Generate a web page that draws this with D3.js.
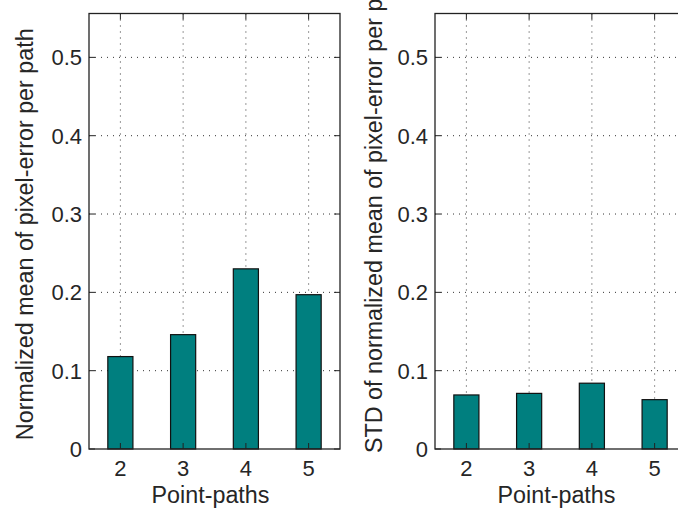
<!DOCTYPE html>
<html>
<head>
<meta charset="utf-8">
<script src="https://cdn.jsdelivr.net/npm/d3@7"></script>
<style>
  html, body { margin: 0; padding: 0; background: #fff; }
  svg { display: block; }
  text { font-family: "Liberation Sans", Arial, sans-serif; fill: #262626; }
</style>
</head>
<body>
<svg id="chart" width="678" height="512"></svg>
<script>
const categories = [2, 3, 4, 5];
const meanValues = [0.118, 0.146, 0.230, 0.197];
const stdValues = [0.069, 0.071, 0.084, 0.063];
const yTicks = [0, 0.1, 0.2, 0.3, 0.4, 0.5];
const yTickLabels = ["0", "0.1", "0.2", "0.3", "0.4", "0.5"];
const xLabel = "Point-paths";
const yLabelLeft = "Normalized mean of pixel-error per path";
const yLabelRight = "STD of normalized mean of pixel-error per path";

const svg = d3.select("#chart");
const FS = 22;
const LFS = 23.3;

function panel(left, values, ylabel, labelMode) {
  const top = 13.5, bottom = 449, width = 251;
  const x = d3.scaleLinear().domain([1.5, 5.5]).range([left, left + width]);
  const y = d3.scaleLinear().domain([0, 0.556]).range([bottom, top]);
  const g = svg.append("g");

  // grid
  g.selectAll(".gx").data(categories).enter().append("line")
    .attr("x1", d => x(d)).attr("x2", d => x(d))
    .attr("y1", top).attr("y2", bottom)
    .attr("stroke", "#333").attr("stroke-width", 1).attr("stroke-dasharray", "1,5");
  g.selectAll(".gy").data(yTicks.slice(1)).enter().append("line")
    .attr("x1", left).attr("x2", left + width)
    .attr("y1", d => y(d)).attr("y2", d => y(d))
    .attr("stroke", "#333").attr("stroke-width", 1).attr("stroke-dasharray", "1,5");

  // bars
  const bw = 0.4;
  g.selectAll(".bar").data(values).enter().append("rect")
    .attr("x", (d, i) => x(categories[i] - bw / 2))
    .attr("width", x(bw) - x(0))
    .attr("y", d => y(d))
    .attr("height", d => y(0) - y(d))
    .attr("fill", "#007f7f")
    .attr("stroke", "#111").attr("stroke-width", 1.2);

  // ticks inward
  const tl = 6;
  categories.forEach(c => {
    g.append("line").attr("x1", x(c)).attr("x2", x(c)).attr("y1", bottom).attr("y2", bottom - tl).attr("stroke", "#222");
    g.append("line").attr("x1", x(c)).attr("x2", x(c)).attr("y1", top).attr("y2", top + tl).attr("stroke", "#222");
  });
  yTicks.forEach(t => {
    g.append("line").attr("x1", left).attr("x2", left + tl).attr("y1", y(t)).attr("y2", y(t)).attr("stroke", "#222");
    g.append("line").attr("x1", left + width).attr("x2", left + width - tl).attr("y1", y(t)).attr("y2", y(t)).attr("stroke", "#222");
  });

  // box
  g.append("rect").attr("x", left).attr("y", top).attr("width", width).attr("height", bottom - top)
    .attr("fill", "none").attr("stroke", "#222").attr("stroke-width", 1.3);

  // tick labels
  g.selectAll(".xt").data(categories).enter().append("text")
    .attr("x", d => x(d)).attr("y", 476)
    .attr("text-anchor", "middle").attr("font-size", FS)
    .text(d => d);
  g.selectAll(".yt").data(yTicks).enter().append("text")
    .attr("x", left - 7).attr("y", d => y(d) + 8)
    .attr("text-anchor", "end").attr("font-size", FS)
    .text((d, i) => yTickLabels[i]);

  // axis labels
  g.append("text").attr("x", left + width / 2 - 4).attr("y", 503)
    .attr("text-anchor", "middle").attr("font-size", LFS).text(xLabel);
  if (labelMode === "middle") {
    g.append("text").attr("transform", `translate(${left - 56},${(top + bottom) / 2 + 3}) rotate(-90)`)
      .attr("text-anchor", "middle").attr("font-size", LFS).text(ylabel);
  } else {
    g.append("text").attr("transform", `translate(${left - 53},453) rotate(-90)`)
      .attr("text-anchor", "start").attr("font-size", LFS).text(ylabel);
  }
}

panel(89, meanValues, yLabelLeft, "middle");
panel(435, stdValues, yLabelRight, "start");
</script>
</body>
</html>
